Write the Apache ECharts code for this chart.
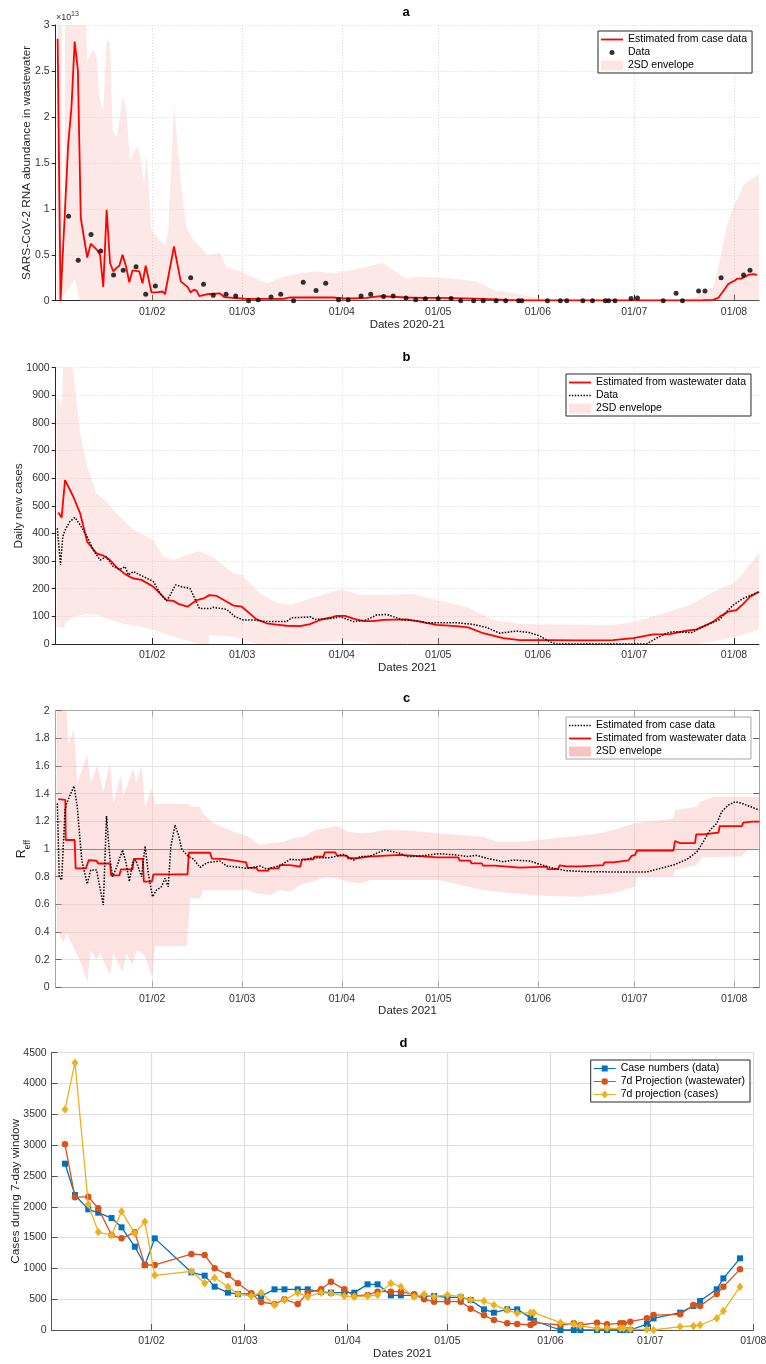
<!DOCTYPE html>
<html>
<head>
<meta charset="utf-8">
<script src="https://cdn.jsdelivr.net/npm/echarts@6/dist/echarts.min.js"></script>
<style>
  html, body { margin: 0; padding: 0; background: #fff; }
  #chart { width: 766px; height: 1364px; }
</style>
</head>
<body>
<div id="chart"></div>
<script>
// ---------------------------------------------------------------
// Time is counted in days since 2 Jan 2021 on every x axis.
// ---------------------------------------------------------------
const DAY_MS = 86400000;
const DAY0 = Date.UTC(2021, 0, 2);
const tickDates = ['2021-02-01', '2021-03-01', '2021-04-01', '2021-05-01', '2021-06-01', '2021-07-01', '2021-08-01'];
const tickLabels = ['01/02', '01/03', '01/04', '01/05', '01/06', '01/07', '01/08'];
const tickDays = tickDates.map(s => Math.round((Date.parse(s + 'T00:00:00Z') - DAY0) / DAY_MS));
const END_ABC = 218.8;   // last day shown in panels a-c
const END_D = 211;       // last day shown in panel d

// ---------- a: RNA abundance in wastewater (units of 1e13) ----------
const rnaFit = [[0.6,2.85],[1.5,0],[1.9,0],[3.9,1.71],[4.9,2.1],[5.9,2.82],[6.9,2.51],[7.8,0.9],[9.8,0.47],[10.9,0.62],
  [12.9,0.55],[13.8,0.5],[14.8,0.15],[15.85,0.99],[16.9,0.41],[17.9,0.32],[19,0.36],[19.8,0.38],[20.8,0.5],[21.9,0.37],
  [22.9,0.2],[23.9,0.33],[26,0.32],[27,0.19],[28,0.38],[29,0.22],[29.8,0.09],[31.4,0.09],[33.3,0.1],[34,0.07],
  [36.8,0.59],[38.9,0.21],[41,0.15],[42,0.09],[43,0.12],[43.8,0.11],[44.7,0.05],[47,0.07],[51.1,0.08],[52.4,0.04],
  [55.3,0.03],[59.4,0.02],[65.6,0.02],[70.8,0.02],[72.9,0.035],[79.1,0.035],[86.4,0.035],[89.5,0.025],[92.6,0.025],[96.7,0.03],
  [100.9,0.05],[104,0.045],[109.2,0.035],[114.4,0.03],[119,0.03],[126.8,0.025],[133,0.02],[140.3,0.01],[145.4,0.005],[152.7,0.003],
  [173.4,0.003],[194.2,0.003],[201.4,0.005],[204.5,0.01],[206.1,0.03],[207.6,0.1],[209.2,0.18],[210.2,0.2],[211.3,0.22],[212,0.24],
  [213.3,0.24],[214.4,0.26],[215.4,0.28],[217,0.29],[218.2,0.28]];
const rnaData = [[4,0.92],[7,0.44],[11,0.72],[14,0.54],[18,0.28],[21,0.33],[25,0.37],[28,0.07],[31,0.16],[42,0.25],
  [46,0.18],[49,0.06],[53,0.07],[56,0.05],[60,0.0],[63,0.01],[67,0.04],[70,0.07],[74,0.0],[77,0.2],
  [81,0.11],[84,0.19],[88,0.01],[91,0.01],[95,0.05],[98,0.07],[102,0.045],[105,0.05],[109,0.03],[112,0.01],
  [115,0.02],[119,0.02],[123,0.025],[126,0],[130,0],[133,0],[137,0],[140,0],[144,0],[145,0],
  [153,0],[157,0],[159,0],[164,0],[167,0],[171,0],[172,0],[174,0],[179,0.025],[181,0.03],
  [189,0],[193,0.08],[195,0],[200,0.105],[202,0.105],[207,0.25],[214,0.28],[216,0.33]];
const rnaBandUpper = [[0.5,3],[1.9,3],[2.0,0.25],[2.8,0.25],[2.9,3],[9.4,3],[9.8,2.62],[11.7,2.73],[12.7,2.67],[13.6,2.22],
  [14.8,2.07],[15.85,2.85],[16.9,2.8],[17.7,1.86],[19,1.78],[20.8,2.22],[21.9,2.11],[23.1,1.53],[24.1,1.6],[25.2,1.68],
  [26.2,1.59],[27.5,1.28],[28.3,1.6],[29.8,0.77],[34,0.59],[35,0.75],[36.8,2.15],[37.6,1.82],[39.2,1.2],[40.7,0.8],
  [42.8,0.66],[44.9,0.59],[47,0.5],[51.1,0.52],[53.2,0.37],[57.3,0.32],[65.6,0.19],[70.8,0.26],[76,0.3],[81.2,0.32],
  [86.4,0.3],[91.5,0.33],[96.7,0.37],[101.9,0.41],[105,0.33],[109.2,0.24],[112.3,0.26],[119,0.25],[123.7,0.24],[130.9,0.21],
  [136.1,0.12],[142.3,0.08],[150,0.03],[157.9,0.01],[194.2,0.005],[199.4,0.04],[204.6,0.15],[206.6,0.44],[208.7,0.8],[210.8,1.02],
  [212.9,1.17],[213.9,1.26],[216,1.31],[218.8,1.38]];
const rnaBandLower = [[0.5,0],[2.9,0.08],[4.5,0.15],[5.9,0.24],[7.5,0],[218.8,0]];

// ---------- b: daily new cases ----------
const casesFit = [[0.8,476],[1.85,458],[2.9,593],[5.5,533],[7.6,473],[9.8,370],[12.7,328],[14.8,320],[16.9,304],[19,277],
  [21.6,253],[23.9,238],[26.7,232],[30.4,207],[34.5,159],[36.6,156],[38.4,144],[41,135],[43.9,159],[46,165],
  [47.8,177],[50.1,174],[55.3,139],[57.9,135],[62.5,89],[65.6,75],[68.7,70],[71.8,66],[76,65],[79.1,72],
  [82.2,87],[85.3,95],[87.4,102],[90,102],[92.6,92],[95.7,83],[98.8,83],[101.9,87],[109.2,89],[113.3,81],
  [118.5,69],[124.7,65],[128.3,60],[133,39],[139.2,21],[144.4,14],[152.7,14],[163.1,13],[173.4,14],[179.7,21],
  [185.9,35],[191.1,36],[196.3,48],[199.4,53],[202.5,69],[204.6,81],[206.6,99],[209.2,117],[211.8,123],[213.9,145],
  [216,171],[218.8,189]];
const casesData = [[0.5,419],[1.5,286],[2.2,388],[2.9,412],[4.4,443],[6,458],[7.6,431],[9.8,388],[11.7,340],[13.8,304],
  [15.7,316],[17.9,280],[20,270],[21.6,280],[22.6,250],[24.2,262],[26.2,250],[28.3,238],[30.4,226],[32.5,183],
  [34.5,156],[35.6,177],[37.3,214],[39.2,207],[41.8,201],[44.7,129],[48,128],[49,133],[53.2,125],[55.8,99],
  [58.4,87],[61.5,87],[65.6,81],[71.8,81],[73.4,95],[78.1,97],[79.1,99],[80.6,89],[86.4,93],[88.4,99],
  [90.5,90],[92.6,81],[96.7,87],[99.8,105],[103,107],[105,99],[108.1,87],[112.3,84],[115.4,77],[124.7,77],
  [129.9,71],[134,60],[138.2,39],[143.4,47],[147.5,41],[150.6,29],[153.8,8],[155.8,0],[183.8,0],[186.9,21],
  [190,39],[192.1,45],[197.8,41],[201.4,63],[206.6,89],[208.7,117],[210.8,141],[213.9,165],[218.8,189]];
const casesBandUpper = [[0.3,895],[1.35,877],[1.9,855],[2.3,1000],[5.3,1000],[6,931],[7.6,762],[9.8,642],[12.7,545],[15.8,515],
  [20,461],[24.2,413],[28.3,388],[30.4,376],[33.5,316],[36.6,304],[40.7,322],[44.4,337],[49,314],[55.3,256],
  [57.9,250],[63.5,183],[68.7,150],[72.9,141],[79.1,165],[85.3,187],[89,198],[94.7,177],[100.9,177],[111.2,181],
  [118.5,159],[127.8,135],[136.1,87],[144.4,72],[157.9,71],[173.4,69],[180.7,81],[189,111],[197.3,141],[204.6,189],
  [210.8,220],[213.9,256],[218.8,330]];
const casesBandLower = [[0.3,63],[2.4,57],[3.4,81],[5.5,99],[9.8,109],[13.8,101],[20,75],[26.2,63],[30.4,51],[36.6,27],
  [44.9,0],[47.6,0],[47.8,33],[55.3,27],[60.5,8],[63,0],[80,5],[90,12],[95,8],[100,0],
  [199.4,0],[209.7,21],[218.8,52]];

// ---------- c: effective reproduction number ----------
const reffCase = [[0.5,1.33],[1.1,0.8],[1.85,0.776],[2.9,1.28],[3.4,1.33],[5.7,1.455],[6.7,1.306],[8.1,0.92],[9.8,0.747],[10.9,0.848],
  [12.7,0.848],[14.8,0.595],[15.8,1.239],[16.9,0.92],[17.7,0.8],[19,0.872],[20.8,0.993],[21.9,0.896],[22.9,0.764],[23.9,0.901],
  [24.9,0.92],[26.7,0.8],[27.8,1.022],[28.8,0.824],[30.1,0.655],[31.4,0.704],[32.9,0.728],[34,0.788],[35,0.728],[35.8,1.017],
  [37.1,1.173],[38.2,1.1],[39.2,0.998],[41.3,0.945],[42.8,0.928],[44.9,0.867],[47,0.901],[51.1,0.913],[53.2,0.877],[57.3,0.867],
  [59.4,0.86],[63.5,0.877],[65.6,0.855],[69.8,0.88],[72.9,0.925],[77,0.92],[80.1,0.937],[85.3,0.937],[89.5,0.961],[92.6,0.92],
  [94.7,0.945],[97.8,0.949],[100.9,0.98],[102.4,0.993],[103,0.98],[107.1,0.969],[109.2,0.945],[113.3,0.949],[119,0.966],[124.7,0.957],
  [127.8,0.945],[130.9,0.954],[134,0.933],[139.2,0.908],[142.3,0.92],[147.5,0.913],[150.6,0.889],[154.8,0.86],[158.9,0.843],[165.2,0.836],
  [173.4,0.834],[183.8,0.834],[188,0.86],[192.1,0.884],[196.3,0.925],[199.4,0.98],[201.4,1.053],[203.5,1.137],[205.6,1.186],[207.1,1.27],
  [209.2,1.318],[211.3,1.342],[213.4,1.33],[216,1.306],[218.8,1.282]];
const reffWW = [[0.8,1.36],[3.0,1.355],[3.1,1.065],[5.9,1.065],[6.2,0.86],[9.4,0.86],[10.3,0.92],[12.7,0.915],[13.2,0.895],[16.9,0.895],
  [17.2,0.81],[19.8,0.81],[20.3,0.853],[23.9,0.853],[24.3,0.928],[27.1,0.928],[27.4,0.764],[29.9,0.764],[30.4,0.817],[41,0.817],
  [41.4,0.973],[48,0.973],[48.6,0.93],[51.9,0.928],[52.5,0.918],[55.3,0.918],[55.7,0.904],[59.2,0.904],[59.7,0.863],[62.5,0.863],
  [62.9,0.843],[66.1,0.843],[66.5,0.86],[69.3,0.86],[69.7,0.884],[72.9,0.884],[73.3,0.872],[76,0.872],[76.6,0.925],[80.1,0.925],
  [80.5,0.945],[83.3,0.945],[83.7,0.976],[86.9,0.976],[87.5,0.952],[90.5,0.952],[90.9,0.933],[93.6,0.933],[94,0.945],[97.2,0.945],
  [97.6,0.957],[107.1,0.957],[107.5,0.945],[118.6,0.94],[125.2,0.94],[125.6,0.916],[128.9,0.916],[129.3,0.896],[132.5,0.896],[132.9,0.88],
  [136.6,0.88],[137,0.867],[144.4,0.865],[144.8,0.875],[152.7,0.872],[153,0.855],[156.3,0.855],[156.7,0.882],[158.9,0.875],[163.1,0.875],
  [163.5,0.889],[170.3,0.884],[170.7,0.904],[173.4,0.904],[173.8,0.918],[178.1,0.918],[179.1,0.95],[180.2,0.957],[180.7,0.988],[192.1,0.988],
  [192.6,1.058],[194.2,1.043],[198.8,1.043],[199.2,1.106],[201.4,1.106],[201.8,1.118],[206.1,1.118],[206.5,1.166],[213.4,1.166],[213.8,1.19],
  [216.5,1.198],[218.8,1.198]];
const reffBandUpper = [[0.3,2],[3.4,2],[3.9,1.75],[5.7,1.865],[6.7,1.475],[9.8,1.68],[10.9,1.475],[12.9,1.607],[14.8,1.414],[16.9,1.631],
  [17.9,1.33],[20.2,1.535],[21,1.378],[24.2,1.583],[25,1.475],[26.7,1.607],[27.8,1.306],[29.9,1.439],[30.9,1.325],[41.3,1.325],
  [42.3,1.306],[44.9,1.306],[45.4,1.27],[48,1.21],[49,1.186],[51.6,1.161],[55.3,1.125],[59.4,1.094],[63.5,1.029],[66.7,1.041],
  [70.8,1.053],[73.9,1.077],[77,1.089],[80.7,1.137],[83.8,1.149],[87.4,1.166],[91,1.125],[94.7,1.113],[97.8,1.118],[101.9,1.137],
  [109.2,1.133],[119,1.113],[125.8,1.101],[133,1.089],[137.2,1.053],[144.4,1.053],[150.6,1.065],[156.9,1.084],[163.1,1.096],[169.3,1.113],
  [173.4,1.137],[180.2,1.186],[186.9,1.205],[192.1,1.219],[192.6,1.282],[199.4,1.306],[200.4,1.342],[204.6,1.378],[218.8,1.378]];
const reffBandLower = [[0.3,0.414],[2.4,0.33],[3.4,0.39],[5.9,0.27],[7.5,0.198],[9.8,0.041],[10.9,0.27],[12.7,0.198],[13.8,0.246],[16.9,0.089],
  [17.9,0.246],[20.8,0.113],[22,0.246],[23.9,0.161],[25.2,0.27],[27.8,0.222],[29.9,0.077],[30.9,0.299],[40.8,0.299],[41.8,0.643],
  [44.9,0.643],[45.9,0.704],[59.4,0.704],[62.5,0.68],[66.7,0.667],[69.8,0.704],[72.9,0.692],[77,0.752],[80.1,0.764],[83.8,0.795],
  [87.4,0.788],[91,0.764],[94.7,0.752],[97.8,0.776],[119,0.776],[125.8,0.74],[133,0.704],[144.4,0.675],[152.7,0.66],[163.1,0.655],
  [173.4,0.68],[180.2,0.728],[180.7,0.8],[192.1,0.8],[192.6,0.848],[199.4,0.884],[200.9,0.94],[213.4,0.945],[215,0.993],[218.8,1.005]];

// ---------- d: cases during 7-day window ----------
const sampleDays = [4,7,11,14,18,21,25,28,31,42,46,49,53,56,60,63,67,70,74,77,81,84,88,91,95,98,
  102,105,109,112,115,119,123,126,130,133,137,140,144,145,153,157,159,164,167,171,172,174,179,181,
  189,193,195,200,202,207];
const weeklyCases = [2699,2190,1958,1904,1817,1666,1352,1055,1487,936,882,703,606,584,584,552,660,660,660,660,617,606,606,606,741,741,
  562,562,562,552,552,530,530,487,335,281,335,335,200,150,0,0,0,0,0,0,0,0,97,189,
  281,390,470,660,838,1163];
const weeklyProjWW = [3013,2153,2163,1974,1541,1487,1585,1055,1055,1233,1217,1001,892,757,595,454,422,498,422,606,660,784,660,552,568,622,
  622,622,579,498,460,460,460,346,238,162,108,97,81,119,81,108,81,119,92,108,108,135,189,243,
  254,406,390,584,703,984];
const weeklyProjCases = [3580,4338,2039,1590,1536,1925,1568,1758,887,952,757,849,703,584,552,606,406,487,606,541,606,595,552,541,552,568,
  760,703,541,579,541,568,541,487,470,406,325,270,281,281,119,92,65,27,27,27,27,11,11,0,
  54,65,81,189,308,703];

// ---------------------------------------------------------------
const FONT = '"Liberation Sans", Arial, Helvetica, sans-serif';
const TXT = '#262626';
const BOX_GRAY = '#a6a6a6';
const zip = (xs, ys) => xs.map((x, i) => [x, ys[i]]);
const tickLabelOf = new Map(tickDays.map((d, i) => [d, tickLabels[i]]));
const plainNumber = v => String(Math.round(v * 1e6) / 1e6);

// Legend glyphs drawn in a 22x10 box (corner points fix the box size).
const BOX = 'path://M0,0L0,0M22,10L22,10';
const ICON = {
  line: BOX + 'M0,4.1h22v1.8h-22z',
  dotted: BOX + Array.from({length: 8}, (_, i) => `M${(i * 2.9).toFixed(1)},4.3h1.4v1.4h-1.4z`).join(''),
  dot: BOX + 'M8.5,5a2.5,2.5 0 1 0 5,0a2.5,2.5 0 1 0 -5,0z',
  patch: 'path://M0,0h22v10h-22z',
  square: BOX + 'M0,4.4h8v1.2h-8zM14,4.4h8v1.2h-8zM8,2h6v6h-6z',
  circle: BOX + 'M0,4.4h8v1.2h-8zM14,4.4h8v1.2h-8zM7.7,5a3.3,3.3 0 1 0 6.6,0a3.3,3.3 0 1 0 -6.6,0z',
  diamond: BOX + 'M0,4.4h8v1.2h-8zM14,4.4h8v1.2h-8zM11,1L14.6,5L11,9L7.4,5z'
};

function dateAxis(gridIndex, max, name, axisColor, grid) {
  return {
    type: 'value', gridIndex, min: 0, max,
    name, nameLocation: 'middle', nameGap: 18, nameMoveOverlap: false,
    nameTextStyle: { fontSize: 11.5, color: TXT, fontFamily: FONT },
    axisLine: { show: true, onZero: false, lineStyle: { color: axisColor, width: 1 } },
    axisTick: { show: true, inside: true, length: 6, customValues: tickDays, lineStyle: { color: axisColor } },
    axisLabel: { show: true, customValues: tickDays, margin: 6, fontSize: 10.5, color: '#333', fontFamily: FONT,
      formatter: v => tickLabelOf.get(Math.round(v)) || '' },
    splitLine: grid ? { show: true, lineStyle: grid } : { show: false }
  };
}

function valueAxis(gridIndex, max, interval, name, nameGap, opts) {
  return Object.assign({
    type: 'value', gridIndex, min: 0, max, interval,
    name, nameLocation: 'middle', nameGap, nameRotate: 90, nameMoveOverlap: false,
    nameTextStyle: { fontSize: 11.8, color: TXT, fontFamily: FONT },
    axisLine: { show: true, onZero: false, lineStyle: { color: TXT, width: 1 } },
    axisTick: { show: true, inside: false, length: 4, lineStyle: { color: TXT } },
    axisLabel: { show: true, margin: 6, fontSize: 10.5, color: '#333', fontFamily: FONT, formatter: plainNumber },
    splitLine: { show: false }
  }, opts || {});
}

// Pink uncertainty band: upper outline then lower outline, through the axis scales.
function band(name, axisIndex, upper, lower, legendColor, fill) {
  return {
    type: 'custom', name, xAxisIndex: axisIndex, yAxisIndex: axisIndex,
    z: 1, silent: true, itemStyle: { color: legendColor },
    data: [[upper[0][0], 0]], encode: { x: 0, y: 1 },
    renderItem: (params, api) => {
      const pts = upper.map(p => api.coord(p));
      for (let i = lower.length - 1; i >= 0; i--) pts.push(api.coord(lower[i]));
      return { type: 'polygon', shape: { points: pts }, style: { fill, stroke: null } };
    }
  };
}

function legendBox(left, top, items, borderColor) {
  return {
    orient: 'vertical', left, top, selectedMode: false,
    backgroundColor: '#fff', borderColor, borderWidth: 1, borderRadius: 0,
    padding: [2, 5, 1, 3], itemWidth: 22, itemHeight: 10, itemGap: 0,
    itemStyle: { borderWidth: 0 },
    textStyle: { fontSize: 10.5, color: '#000', fontFamily: FONT, lineHeight: 13 },
    formatter: n => n.slice(2),
    data: items
  };
}

const dottedGrid = { color: '#d9d9d9', type: [1, 2], width: 1 };
const solidGrid = { color: '#e6e6e6', type: 'solid', width: 1 };
const solidGridD = { color: '#dedede', type: 'solid', width: 1.2 };
const panelC = { left: 55.7, right: 6.7, top: 710.7, height: 276.6, outerBoundsMode: 'none' };

const option = {
  animation: false,
  backgroundColor: '#fff',
  textStyle: { fontFamily: FONT },
  title: [
    { text: 'a', left: 402.5, top: 6, padding: 0, textStyle: { fontSize: 13, fontWeight: 'bold', color: '#000', fontFamily: FONT } },
    { text: 'b', left: 402.5, top: 350.5, padding: 0, textStyle: { fontSize: 13, fontWeight: 'bold', color: '#000', fontFamily: FONT } },
    { text: 'c', left: 403, top: 692, padding: 0, textStyle: { fontSize: 13, fontWeight: 'bold', color: '#000', fontFamily: FONT } },
    { text: 'd', left: 399.5, top: 1036.5, padding: 0, textStyle: { fontSize: 13, fontWeight: 'bold', color: '#000', fontFamily: FONT } }
  ],
  graphic: [
    { type: 'text', left: 56, top: 13, style: { text: '\u00d710', fontSize: 9, fill: '#333', fontFamily: FONT } },
    { type: 'text', left: 71, top: 10.5, style: { text: '13', fontSize: 7, fill: '#333', fontFamily: FONT } }
  ],
  grid: [
    { left: 55.7, right: 7, top: 25, height: 275.7, outerBoundsMode: 'none' },
    { left: 55.7, right: 7, top: 367.7, height: 276.3, outerBoundsMode: 'none' },
    panelC,
    { left: 51.7, right: 12.7, top: 1052.7, height: 277.3, outerBoundsMode: 'none' },
    Object.assign({}, panelC)          // frame (top and right edges) of panel c
  ],
  xAxis: [
    dateAxis(0, END_ABC, 'Dates 2020-21', TXT, dottedGrid),
    dateAxis(1, END_ABC, 'Dates 2021', TXT, dottedGrid),
    dateAxis(2, END_ABC, 'Dates 2021', BOX_GRAY, solidGrid),
    Object.assign(dateAxis(4, END_ABC, '', BOX_GRAY, null), { position: 'top', axisLabel: { show: false } }),
    dateAxis(3, END_D, 'Dates 2021', '#555', solidGridD)
  ],
  yAxis: [
    valueAxis(0, 3, 0.5, 'SARS-CoV-2 RNA abundance in wastewater', 23, { splitLine: { show: true, lineStyle: dottedGrid } }),
    valueAxis(1, 1000, 100, 'Daily new cases', 31, { splitLine: { show: true, lineStyle: dottedGrid } }),
    valueAxis(2, 2, 0.2, '{r|R}{s|eff}', 24, {
      nameTextStyle: { color: TXT, fontFamily: FONT, rich: {
        r: { fontSize: 12.5, lineHeight: 17, verticalAlign: 'top', color: TXT, fontFamily: FONT },
        s: { fontSize: 8.5, verticalAlign: 'bottom', color: TXT, fontFamily: FONT } } },
      axisLine: { show: true, onZero: false, lineStyle: { color: BOX_GRAY, width: 1 } },
      axisTick: { show: true, inside: true, length: 6, lineStyle: { color: '#666' } },
      splitLine: { show: true, lineStyle: solidGrid }
    }),
    valueAxis(4, 2, 0.2, '', 0, {
      position: 'right', axisLabel: { show: false },
      axisLine: { show: true, onZero: false, lineStyle: { color: BOX_GRAY, width: 1 } },
      axisTick: { show: true, inside: true, length: 6, lineStyle: { color: '#666' } }
    }),
    valueAxis(3, 4500, 500, 'Cases during 7-day window', 30, {
      axisLine: { show: true, onZero: false, lineStyle: { color: '#555', width: 1 } },
      axisTick: { show: true, inside: true, length: 6, lineStyle: { color: '#555' } },
      axisLabel: { show: true, margin: 5, fontSize: 10.5, color: '#333', fontFamily: FONT, formatter: plainNumber },
      splitLine: { show: true, lineStyle: solidGridD }
    })
  ],
  legend: [
    legendBox(598, 31, [
      { name: 'a:Estimated from case data', icon: ICON.line },
      { name: 'a:Data', icon: ICON.dot },
      { name: 'a:2SD envelope', icon: ICON.patch }
    ], TXT),
    legendBox(566, 374, [
      { name: 'b:Estimated from wastewater data', icon: ICON.line },
      { name: 'b:Data', icon: ICON.dotted },
      { name: 'b:2SD envelope', icon: ICON.patch }
    ], TXT),
    legendBox(566, 717, [
      { name: 'c:Estimated from case data', icon: ICON.dotted },
      { name: 'c:Estimated from wastewater data', icon: ICON.line },
      { name: 'c:2SD envelope', icon: ICON.patch }
    ], BOX_GRAY),
    legendBox(590.7, 1060, [
      { name: 'd:Case numbers (data)', icon: ICON.square },
      { name: 'd:7d Projection (wastewater)', icon: ICON.circle },
      { name: 'd:7d projection (cases)', icon: ICON.diamond }
    ], TXT)
  ],
  series: [
    // a
    band('a:2SD envelope', 0, rnaBandUpper, rnaBandLower, '#fde4e4', 'rgba(250,190,190,0.35)'),
    { type: 'line', name: 'a:Estimated from case data', xAxisIndex: 0, yAxisIndex: 0, z: 3, data: rnaFit,
      symbol: 'none', lineStyle: { color: '#ff0000', width: 1.8 }, itemStyle: { color: '#ff0000' } },
    { type: 'scatter', name: 'a:Data', xAxisIndex: 0, yAxisIndex: 0, z: 4, data: rnaData,
      symbol: 'circle', symbolSize: 5, itemStyle: { color: '#000' } },
    // b
    band('b:2SD envelope', 1, casesBandUpper, casesBandLower, '#fde4e4', 'rgba(250,190,190,0.35)'),
    { type: 'line', name: 'b:Estimated from wastewater data', xAxisIndex: 1, yAxisIndex: 1, z: 3, data: casesFit,
      symbol: 'none', lineStyle: { color: '#ff0000', width: 1.8 }, itemStyle: { color: '#ff0000' } },
    { type: 'line', name: 'b:Data', xAxisIndex: 1, yAxisIndex: 1, z: 4, data: casesData,
      symbol: 'none', lineStyle: { color: '#000', width: 1.5, type: [1.5, 1.5] }, itemStyle: { color: '#000' } },
    // c
    band('c:2SD envelope', 2, reffBandUpper, reffBandLower, '#fbc2c2', 'rgba(250,180,180,0.38)'),
    { type: 'line', name: 'c:Estimated from case data', xAxisIndex: 2, yAxisIndex: 2, z: 4, data: reffCase,
      symbol: 'none', lineStyle: { color: '#000', width: 1.5, type: [1.5, 1.5] }, itemStyle: { color: '#000' },
      markLine: { silent: true, symbol: 'none', label: { show: false }, z: 2,
        lineStyle: { color: '#8c8c8c', width: 1, type: 'solid' }, data: [{ yAxis: 1 }] } },
    { type: 'line', name: 'c:Estimated from wastewater data', xAxisIndex: 2, yAxisIndex: 2, z: 3, data: reffWW,
      symbol: 'none', lineStyle: { color: '#ff0000', width: 1.8 }, itemStyle: { color: '#ff0000' } },
    // d
    { type: 'line', name: 'd:Case numbers (data)', xAxisIndex: 4, yAxisIndex: 4, z: 3, data: zip(sampleDays, weeklyCases),
      symbol: 'rect', symbolSize: 6, showSymbol: true, lineStyle: { color: '#0072BD', width: 1.3 }, itemStyle: { color: '#0072BD' } },
    { type: 'line', name: 'd:7d Projection (wastewater)', xAxisIndex: 4, yAxisIndex: 4, z: 4, data: zip(sampleDays, weeklyProjWW),
      symbol: 'circle', symbolSize: 6.5, showSymbol: true, lineStyle: { color: '#D95319', width: 1.3 }, itemStyle: { color: '#D95319' } },
    { type: 'line', name: 'd:7d projection (cases)', xAxisIndex: 4, yAxisIndex: 4, z: 5, data: zip(sampleDays, weeklyProjCases),
      symbol: 'diamond', symbolSize: [7, 8.5], showSymbol: true, lineStyle: { color: '#EDB120', width: 1.3 }, itemStyle: { color: '#EDB120' } }
  ]
};

const chart = echarts.init(document.getElementById('chart'), null, { renderer: 'canvas' });
chart.setOption(option);
</script>
</body>
</html>
